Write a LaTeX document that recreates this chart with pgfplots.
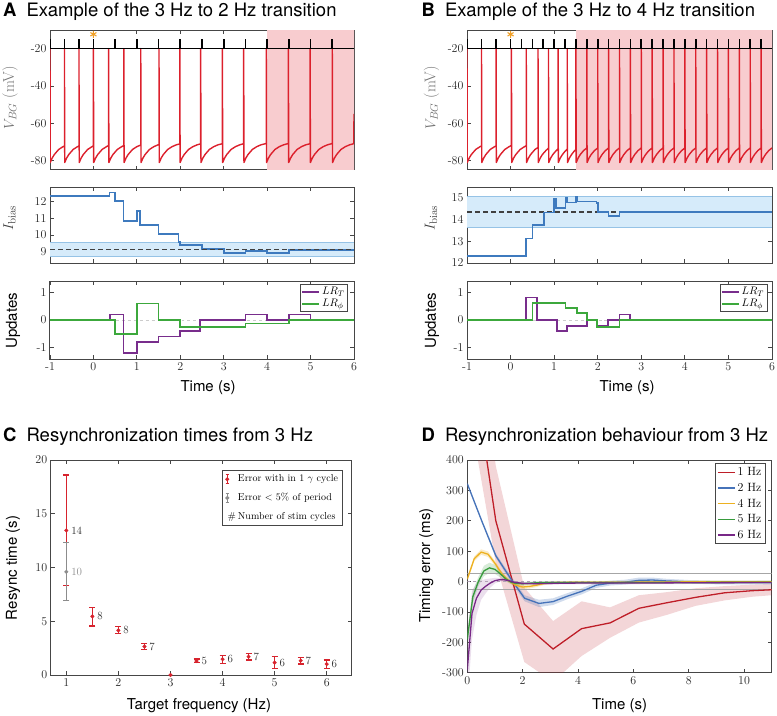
\documentclass[border=0pt]{standalone}
\usepackage{fontspec}
\usepackage{pgfplots}
\pgfplotsset{compat=1.18}
\usepackage{pgfplotstable}
\newfontfamily\hv{TeX Gyre Heros}
\definecolor{axc}{RGB}{70,70,70}
\definecolor{spk}{RGB}{220,32,44}
\definecolor{shd}{RGB}{248,204,207}
\definecolor{ibl}{RGB}{62,122,190}
\definecolor{bandf}{RGB}{214,235,250}
\definecolor{bande}{RGB}{150,195,230}
\definecolor{lrt}{RGB}{120,45,140}
\definecolor{lrp}{RGB}{60,168,60}
\definecolor{star}{RGB}{240,160,40}
\definecolor{cred}{RGB}{215,35,45}
\definecolor{cgray}{RGB}{140,140,140}
\definecolor{d1}{RGB}{190,30,40}
\definecolor{d2}{RGB}{70,115,185}
\definecolor{d4}{RGB}{237,177,32}
\definecolor{d5}{RGB}{55,155,60}
\definecolor{d6}{RGB}{120,40,135}
\newcommand{\tf}{\fontsize{12bp}{13bp}\selectfont}
\newcommand{\lf}{\hv\fontsize{15bp}{17bp}\selectfont}
\newcommand{\ttl}{\hv\fontsize{18.5bp}{21bp}\selectfont}
\pgfplotsset{
  base/.style={scale only axis, anchor=north west,
    axis line style={draw=axc, line width=1bp},
    tick style={draw=axc, line width=0.8bp}, major tick length=4bp, tick align=inside,
    tick label style={font=\tf, text=black!85},
    /pgf/number format/assume math mode=true},
}
\pgfplotstableread{
x y ep em lab
1 13.45 5.15 5.15 14
1.5 5.45 0.85 0.9 8
2 4.15 0.35 0.3 8
2.5 2.65 0.3 0.3 7
3.5 1.3 0.18 0.15 5
4 1.47 0.33 0.37 6
4.5 1.7 0.3 0.3 7
5 1.15 0.55 0.55 6
5.5 1.33 0.3 0.3 7
6 1.02 0.38 0.4 6
}\resC
\begin{document}
\begin{tikzpicture}
\useasboundingbox (0,0) rectangle (777bp,-716bp);
% ---------- A1
\begin{axis}[base, at={(50bp,-30bp)}, width=304bp, height=140bp,
  xmin=-1, xmax=6, ymin=-85, ymax=-10, xtick={-1,0,...,6}, xticklabels={}, ytick={-80,-60,-40,-20}]
\addplot[fill=shd, draw=none, forget plot] coordinates {(4,-90) (6.5,-90) (6.5,0) (4,0)};
\addplot[spk, line width=1.4bp, line join=round] coordinates {
(-1,-20) (-0.994,-81) (-0.95,-78.6) (-0.9,-76.7) (-0.8,-74) (-0.7,-72.5) (-0.667,-72.1)
(-0.667,-20) (-0.661,-81) (-0.617,-78.6) (-0.567,-76.7) (-0.467,-74) (-0.367,-72.5) (-0.333,-72.1)
(-0.333,-20) (-0.327,-81) (-0.283,-78.6) (-0.233,-76.7) (-0.133,-74) (-0.033,-72.5) (0,-72.1)
(0,-20) (0.006,-81) (0.05,-78.6) (0.1,-76.7) (0.2,-74) (0.3,-72.5) (0.35,-71.9)
(0.35,-20) (0.356,-81) (0.4,-78.6) (0.45,-76.7) (0.55,-74) (0.65,-72.5) (0.7,-71.9)
(0.7,-20) (0.706,-81) (0.75,-78.6) (0.8,-76.7) (0.9,-74) (1.0,-72.5) (1.09,-71.6)
(1.09,-20) (1.096,-81) (1.14,-78.6) (1.19,-76.7) (1.29,-74) (1.39,-72.5) (1.49,-71.5) (1.51,-71.4)
(1.51,-20) (1.516,-81) (1.56,-78.6) (1.61,-76.7) (1.71,-74) (1.81,-72.5) (1.91,-71.5) (1.99,-71)
(1.99,-20) (1.996,-81) (2.04,-78.6) (2.09,-76.7) (2.19,-74) (2.29,-72.5) (2.39,-71.5) (2.47,-71)
(2.47,-20) (2.476,-81) (2.52,-78.6) (2.57,-76.7) (2.67,-74) (2.77,-72.5) (2.87,-71.5) (2.97,-70.9)
(2.97,-20) (2.976,-81) (3.02,-78.6) (3.07,-76.7) (3.17,-74) (3.27,-72.5) (3.37,-71.5) (3.46,-70.9)
(3.46,-20) (3.466,-81) (3.51,-78.6) (3.56,-76.7) (3.66,-74) (3.76,-72.5) (3.86,-71.5) (3.98,-70.8)
(3.98,-20) (3.986,-81) (4.03,-78.6) (4.08,-76.7) (4.18,-74) (4.28,-72.5) (4.38,-71.5) (4.49,-70.8)
(4.49,-20) (4.496,-81) (4.54,-78.6) (4.59,-76.7) (4.69,-74) (4.79,-72.5) (4.89,-71.5) (4.99,-70.9)
(4.99,-20) (4.996,-81) (5.04,-78.6) (5.09,-76.7) (5.19,-74) (5.29,-72.5) (5.39,-71.5) (5.5,-70.8)
(5.5,-20) (5.506,-81) (5.55,-78.6) (5.6,-76.7) (5.7,-74) (5.8,-72.5) (5.9,-71.5) (5.995,-70.9) (6,-55)};
\addplot[black, line width=1.2bp] coordinates {(-1,-20) (6,-20)};
\addplot[draw=none, mark=none, error bars/.cd, y dir=plus, y fixed=5, error mark=none,
  error bar style={draw=black, line width=1.6bp}] coordinates {
(-1,-20) (-0.667,-20) (-0.333,-20) (0,-20) (0.5,-20) (1,-20) (1.5,-20) (2,-20) (2.5,-20) (3,-20) (3.5,-20) (4,-20) (4.5,-20) (5,-20) (5.5,-20)};
\addplot[star, only marks, mark=asterisk, mark size=3.5bp, mark options={line width=1.1bp}] coordinates {(0,-12.3)};
\end{axis}
% ---------- A2
\begin{axis}[base, at={(50bp,-187bp)}, width=304bp, height=76bp,
  xmin=-1, xmax=6, ymin=8.35, ymax=12.83, xtick={-1,0,...,6}, xticklabels={}, ytick={9,10,11,12}]
\addplot[fill=bandf, draw=none] coordinates {(-1,8.74) (6,8.74) (6,9.59) (-1,9.59)};
\addplot[bande, line width=0.7bp] coordinates {(-1,8.74) (6,8.74)};
\addplot[bande, line width=0.7bp] coordinates {(-1,9.59) (6,9.59)};
\addplot[ibl, line width=1.7bp, const plot] coordinates {(-1,12.32) (0.37,12.5) (0.5,12.0) (0.69,10.84) (1.0,11.4) (1.07,10.6) (1.5,10.07) (1.96,9.6) (2.0,9.42) (2.5,9.18) (3.0,8.94) (3.5,9.05) (4.0,8.94) (4.5,9.12) (6,9.12)};
\addplot[black!75, dash pattern=on 5bp off 3bp, line width=1.1bp] coordinates {(-1,9.16) (6,9.16)};
\end{axis}
% ---------- A3
\begin{axis}[base, at={(50bp,-281bp)}, width=304bp, height=78bp,
  xmin=-1, xmax=6, ymin=-1.4, ymax=1.4, xtick={-1,0,...,6}, ytick={-1,0,1},
  legend style={at={(0.98,0.96)}, anchor=north east, draw=axc, line width=0.8bp,
    font=\fontsize{11bp}{12bp}\selectfont, inner sep=1bp, row sep=-1bp}, legend cell align=left]
\addplot[black!20, dashed, line width=0.8bp, forget plot] coordinates {(-1,0) (6,0)};
\addplot[lrt, line width=1.7bp, const plot] coordinates {(-1,0) (0.38,0.2) (0.69,-1.18) (1.0,-0.79) (1.5,-0.59) (2.0,-0.39) (2.46,0) (3.5,0.2) (4.0,0) (4.5,0.2) (5.0,0) (6,0)};
\addlegendentry{$LR_T$}
\addplot[lrp, line width=1.7bp, const plot] coordinates {(-1,0) (0.5,-0.49) (1.0,0.59) (1.5,0) (2.0,-0.25) (3.5,-0.13) (4.5,0) (6,0)};
\addlegendentry{$LR_\phi$}
\end{axis}
% ---------- B1
\begin{axis}[base, at={(467bp,-30bp)}, width=305bp, height=140bp,
  xmin=-1, xmax=6, ymin=-85, ymax=-10, xtick={-1,0,...,6}, xticklabels={}, ytick={-80,-60,-40,-20}]
\addplot[fill=shd, draw=none, forget plot] coordinates {(1.5,-90) (6.5,-90) (6.5,0) (1.5,0)};
\addplot[spk, line width=1.4bp, line join=round] coordinates {
(-1,-20) (-0.994,-81) (-0.95,-78.6) (-0.9,-76.7) (-0.8,-74) (-0.7,-72.5) (-0.667,-72.1)
(-0.667,-20) (-0.661,-81) (-0.617,-78.6) (-0.567,-76.7) (-0.467,-74) (-0.367,-72.5) (-0.333,-72.1)
(-0.333,-20) (-0.327,-81) (-0.283,-78.6) (-0.233,-76.7) (-0.133,-74) (-0.033,-72.5) (0.02,-71.8)
(0.02,-20) (0.026,-81) (0.07,-78.6) (0.12,-76.7) (0.22,-74) (0.32,-72.5) (0.36,-72.0)
(0.36,-20) (0.366,-81) (0.41,-78.6) (0.46,-76.7) (0.56,-74) (0.63,-72.9)
(0.63,-20) (0.636,-81) (0.68,-78.6) (0.73,-76.7) (0.81,-74.6) (0.87,-73.3)
(0.87,-20) (0.876,-81) (0.92,-78.6) (0.97,-76.7) (1.04,-74.8) (1.09,-73.6)
(1.09,-20) (1.096,-81) (1.14,-78.6) (1.19,-76.7) (1.25,-75) (1.3,-73.8)
(1.3,-20) (1.306,-81) (1.35,-78.6) (1.4,-76.7) (1.45,-75.2) (1.5,-74)
(1.5,-20) (1.506,-81) (1.55,-78.6) (1.6,-76.7) (1.675,-74.6) (1.75,-73.2)
(1.75,-20) (1.756,-81) (1.8,-78.6) (1.85,-76.7) (1.925,-74.6) (2.0,-73.2)
(2.0,-20) (2.006,-81) (2.05,-78.6) (2.1,-76.7) (2.175,-74.6) (2.25,-73.2)
(2.25,-20) (2.256,-81) (2.3,-78.6) (2.35,-76.7) (2.425,-74.6) (2.5,-73.2)
(2.5,-20) (2.506,-81) (2.55,-78.6) (2.6,-76.7) (2.675,-74.6) (2.75,-73.2)
(2.75,-20) (2.756,-81) (2.8,-78.6) (2.85,-76.7) (2.925,-74.6) (3.0,-73.2)
(3.0,-20) (3.006,-81) (3.05,-78.6) (3.1,-76.7) (3.175,-74.6) (3.25,-73.2)
(3.25,-20) (3.256,-81) (3.3,-78.6) (3.35,-76.7) (3.425,-74.6) (3.5,-73.2)
(3.5,-20) (3.506,-81) (3.55,-78.6) (3.6,-76.7) (3.675,-74.6) (3.75,-73.2)
(3.75,-20) (3.756,-81) (3.8,-78.6) (3.85,-76.7) (3.925,-74.6) (4.0,-73.2)
(4.0,-20) (4.006,-81) (4.05,-78.6) (4.1,-76.7) (4.175,-74.6) (4.25,-73.2)
(4.25,-20) (4.256,-81) (4.3,-78.6) (4.35,-76.7) (4.425,-74.6) (4.5,-73.2)
(4.5,-20) (4.506,-81) (4.55,-78.6) (4.6,-76.7) (4.675,-74.6) (4.75,-73.2)
(4.75,-20) (4.756,-81) (4.8,-78.6) (4.85,-76.7) (4.925,-74.6) (5.0,-73.2)
(5.0,-20) (5.006,-81) (5.05,-78.6) (5.1,-76.7) (5.175,-74.6) (5.25,-73.2)
(5.25,-20) (5.256,-81) (5.3,-78.6) (5.35,-76.7) (5.425,-74.6) (5.5,-73.2)
(5.5,-20) (5.506,-81) (5.55,-78.6) (5.6,-76.7) (5.675,-74.6) (5.75,-73.2)
(5.75,-20) (5.756,-81) (5.8,-78.6) (5.85,-76.7) (5.925,-74.6) (6.0,-73.2)};
\addplot[black, line width=1.2bp] coordinates {(-1,-20) (6,-20)};
\addplot[draw=none, mark=none, error bars/.cd, y dir=plus, y fixed=5, error mark=none,
  error bar style={draw=black, line width=1.6bp}] coordinates {
(-1,-20) (-0.667,-20) (-0.333,-20) (0,-20) (0.25,-20) (0.5,-20) (0.75,-20) (1,-20) (1.25,-20) (1.5,-20) (1.75,-20) (2,-20) (2.25,-20) (2.5,-20) (2.75,-20) (3,-20) (3.25,-20) (3.5,-20) (3.75,-20) (4,-20) (4.25,-20) (4.5,-20) (4.75,-20) (5,-20) (5.25,-20) (5.5,-20) (5.75,-20)};
\addplot[star, only marks, mark=asterisk, mark size=3.5bp, mark options={line width=1.1bp}] coordinates {(0,-12.3)};
\end{axis}
% ---------- B2
\begin{axis}[base, at={(467bp,-187bp)}, width=305bp, height=76bp,
  xmin=-1, xmax=6, ymin=12, ymax=15.5, xtick={-1,0,...,6}, xticklabels={}, ytick={12,13,14,15}]
\addplot[fill=bandf, draw=none] coordinates {(-1,13.66) (6,13.66) (6,15.08) (-1,15.08)};
\addplot[bande, line width=0.7bp] coordinates {(-1,13.66) (6,13.66)};
\addplot[bande, line width=0.7bp] coordinates {(-1,15.08) (6,15.08)};
\addplot[black!75, dash pattern=on 5bp off 3bp, line width=1.1bp] coordinates {(-1,14.35) (6,14.35)};
\addplot[ibl, line width=1.7bp, const plot] coordinates {(-1,12.33) (0.35,13.13) (0.5,13.75) (0.76,14.33) (1.0,14.95) (1.05,14.54) (1.26,14.98) (1.3,14.78) (1.5,15.05) (1.53,14.83) (1.97,14.75) (2.0,14.34) (2.25,14.15) (2.5,14.34) (6,14.34)};
\end{axis}
% ---------- B3
\begin{axis}[base, at={(467bp,-281bp)}, width=305bp, height=78bp,
  xmin=-1, xmax=6, ymin=-1.4, ymax=1.4, xtick={-1,0,...,6}, ytick={-1,0,1},
  legend style={at={(0.985,0.96)}, anchor=north east, draw=axc, line width=0.8bp,
    font=\fontsize{11bp}{12bp}\selectfont, inner sep=1bp, row sep=-1bp}, legend cell align=left]
\addplot[black!20, dashed, line width=0.8bp, forget plot] coordinates {(-1,0) (6,0)};
\addplot[lrt, line width=1.7bp, const plot] coordinates {(-1,0) (0.35,0.81) (0.61,0) (1.06,-0.39) (1.29,-0.21) (1.76,0) (1.98,-0.21) (2.24,0) (2.5,0.2) (2.74,0) (6,0)};
\addlegendentry{$LR_T$}
\addplot[lrp, line width=1.7bp, const plot] coordinates {(-1,0) (0.5,0.62) (1.26,0.44) (1.52,0.24) (1.76,0) (1.98,-0.24) (2.5,0) (6,0)};
\addlegendentry{$LR_\phi$}
\end{axis}
% ---------- C
\begin{axis}[base, at={(50.7bp,-460bp)}, width=301bp, height=215bp,
  xmin=0.7, xmax=6.48, ymin=0, ymax=20, xtick={1,...,6}, ytick={0,5,10,15,20},
  legend style={at={(0.971,0.953)}, anchor=north east, draw=axc, line width=0.8bp,
    font=\fontsize{10bp}{11bp}\selectfont, inner sep=2.5bp, row sep=6bp}, legend cell align=left]
\addplot[cred, only marks, mark=*, mark size=1.8bp, forget plot,
  nodes near coords, point meta=explicit symbolic,
  every node near coord/.append style={anchor=west, xshift=1.5bp, text=black!85, font=\fontsize{11bp}{12bp}\selectfont},
  error bars/.cd, y dir=both, y explicit,
  error bar style={line width=1.2bp, cred},
  error mark options={cred, line width=1.2bp, mark size=3bp, rotate=90}]
  table[x=x, y=y, y error plus=ep, y error minus=em, meta=lab] {\resC};
\addplot[cred, only marks, mark=*, mark size=1.8bp, forget plot] coordinates {(3,0)};
\addplot[cgray, only marks, mark=*, mark size=1.8bp, forget plot,
  nodes near coords, point meta=explicit symbolic,
  every node near coord/.append style={anchor=west, xshift=1.5bp, text=cgray, font=\fontsize{11bp}{12bp}\selectfont},
  error bars/.cd, y dir=both, y explicit,
  error bar style={line width=1.2bp, cgray},
  error mark options={cgray, line width=1.2bp, mark size=3bp, rotate=90}]
  table[x=x, y=y, y error=e, meta=lab, row sep=\\] {x y e lab\\ 1 9.6 2.7 10\\};
\addlegendimage{legend image code/.code={
  \draw[cred,line width=1.1bp] (0.12cm,-0.16cm) -- (0.12cm,0.16cm);
  \draw[cred,line width=1.1bp] (0.06cm,-0.16cm) -- (0.18cm,-0.16cm) (0.06cm,0.16cm) -- (0.18cm,0.16cm);
  \fill[cred] (0.12cm,0) circle (1.6bp);}}
\addlegendentry{Error with in 1 $\gamma$ cycle}
\addlegendimage{legend image code/.code={
  \draw[cgray,line width=1.1bp] (0.12cm,-0.16cm) -- (0.12cm,0.16cm);
  \draw[cgray,line width=1.1bp] (0.06cm,-0.16cm) -- (0.18cm,-0.16cm) (0.06cm,0.16cm) -- (0.18cm,0.16cm);
  \fill[cgray] (0.12cm,0) circle (1.6bp);}}
\addlegendentry{Error < 5\% of period}
\addlegendimage{legend image code/.code={
  \node[inner sep=0pt, font=\fontsize{10bp}{11bp}\selectfont] at (0.12cm,0) {\#};}}
\addlegendentry{Number of stim cycles}
\end{axis}
% ---------- D
\begin{axis}[base, at={(467.3bp,-460bp)}, width=304.4bp, height=212.7bp,
  xmin=0, xmax=11, ymin=-300, ymax=400, xtick={0,2,...,10}, ytick={-300,-200,...,400},
  legend style={at={(0.981,0.986)}, anchor=north east, draw=axc, line width=1.1bp,
    font=\fontsize{12bp}{13bp}\selectfont, inner sep=2bp, row sep=2bp}, legend cell align=left]
\addplot[fill=d1, fill opacity=0.18, draw=none, forget plot] coordinates {
(0,1100) (1.03,380) (2.06,-20) (3.1,-130) (4.13,-65) (5.16,-85) (6.2,-45) (7.2,-35) (8.25,-22) (9.3,-15) (10.3,-10) (11,-8)
(11,-45) (10.3,-50) (9.3,-62) (8.25,-80) (7.2,-110) (6.2,-135) (5.16,-185) (4.13,-245) (3.1,-330) (2.06,-265) (1.03,60) (0,600)};
\addplot[fill=d2, fill opacity=0.25, draw=none, forget plot] coordinates {
(0,326) (0.52,205) (1.03,92) (1.55,22) (2.07,-45) (2.59,-60) (3.1,-55) (3.62,-38) (4.14,-22) (4.66,-3) (5.17,3) (5.7,6) (6.2,13) (6.7,13) (7.2,9) (8,5) (9,3) (10,3) (11,3)
(11,-9) (10,-9) (9,-9) (8,-7) (7.2,-5) (6.7,-3) (6.2,-5) (5.7,-10) (5.17,-13) (4.66,-21) (4.14,-42) (3.62,-58) (3.1,-77) (2.59,-84) (2.07,-65) (1.55,2) (1.03,78) (0.52,195) (0,318)};
\addplot[fill=d4, fill opacity=0.25, draw=none, forget plot] coordinates {
(0,14) (0.25,83) (0.5,106) (0.75,99) (1.0,68) (1.25,32) (1.5,8) (1.75,-6) (2.0,-11) (2.25,-9) (2.5,-6) (2.75,-2) (3,1) (4,2) (5,2) (6,2) (8,3) (11,3)
(11,-5) (8,-5) (6,-6) (5,-6) (4,-6) (3,-9) (2.75,-12) (2.5,-18) (2.25,-23) (2.0,-25) (1.75,-18) (1.5,-4) (1.25,18) (1.0,52) (0.75,81) (0.5,88) (0.25,67) (0,2)};
\addplot[fill=d5, fill opacity=0.2, draw=none, forget plot] coordinates {
(0,-170) (0.2,-30) (0.4,15) (0.6,52) (0.8,62) (1.0,55) (1.2,37) (1.4,16) (1.6,3) (1.8,-1) (2.0,-2) (2.5,1) (3,1) (4,1) (6,1) (8,1) (11,2)
(11,-6) (8,-7) (6,-7) (4,-7) (3,-7) (2.5,-9) (2.0,-12) (1.8,-11) (1.6,-9) (1.4,0) (1.2,13) (1.0,25) (0.8,28) (0.6,18) (0.4,-15) (0.2,-70) (0,-210)};
\addplot[fill=d6, fill opacity=0.15, draw=none, forget plot] coordinates {
(0,-180) (0.17,-30) (0.33,-5) (0.5,5) (0.67,8) (0.83,10) (1.0,12) (1.17,12) (1.33,11) (1.5,7) (1.67,2) (2.0,-2) (2.5,-3) (3,-2) (4,-1) (6,-1) (8,0) (11,1)
(11,-7) (8,-8) (6,-9) (4,-9) (3,-10) (2.5,-11) (2.0,-10) (1.67,-6) (1.5,-1) (1.33,1) (1.17,0) (1.0,-6) (0.83,-20) (0.67,-38) (0.5,-60) (0.33,-110) (0.17,-190) (0,-400)};
\addplot[black!35, line width=0.9bp, forget plot] coordinates {(0,26) (11,26)};
\addplot[black!35, line width=0.9bp, forget plot] coordinates {(0,-26) (11,-26)};
\addplot[d6!50!black!40, dashed, line width=0.5bp, forget plot] coordinates {(0,0) (11,0)};
\addplot[d1, line width=1.3bp] coordinates {(0,830) (1.03,200) (2.06,-140) (3.1,-222) (4.13,-155) (5.16,-136) (6.2,-88) (7.2,-70) (8.25,-52) (9.3,-37) (10.3,-30) (11,-27)};
\addlegendentry{1 Hz}
\addplot[d2, line width=1.3bp] coordinates {(0,322) (0.52,200) (1.03,85) (1.55,12) (2.07,-55) (2.59,-72) (3.1,-66) (3.62,-48) (4.14,-32) (4.66,-12) (5.17,-5) (5.7,-2) (6.2,4) (6.7,5) (7.2,2) (8,-1) (9,-3) (10,-3) (11,-3)};
\addlegendentry{2 Hz}
\addplot[d4, line width=1.3bp] coordinates {(0,8) (0.25,75) (0.5,97) (0.75,90) (1.0,60) (1.25,25) (1.5,2) (1.75,-12) (2.0,-18) (2.25,-16) (2.5,-12) (2.75,-7) (3,-4) (4,-2) (5,-2) (6,-2) (8,-1) (11,-1)};
\addlegendentry{4 Hz}
\addplot[d5, line width=1.3bp] coordinates {(0,-190) (0.2,-50) (0.4,0) (0.6,35) (0.8,45) (1.0,40) (1.2,25) (1.4,8) (1.6,-3) (1.8,-6) (2.0,-7) (2.5,-4) (3,-3) (4,-3) (6,-3) (8,-3) (11,-2)};
\addlegendentry{5 Hz}
\addplot[d6, line width=1.3bp] coordinates {(0,-290) (0.17,-105) (0.33,-55) (0.5,-28) (0.67,-15) (0.83,-5) (1.0,3) (1.17,6) (1.33,6) (1.5,3) (1.67,-2) (2.0,-6) (2.5,-7) (3,-6) (4,-5) (6,-5) (8,-4) (11,-3)};
\addlegendentry{6 Hz}
\end{axis}
% ---------- titles
\node[anchor=base west, inner sep=0pt, font=\ttl] at (3bp,-16bp) {\textbf{A}\hspace{10bp}Example of the 3 Hz to 2 Hz transition};
\node[anchor=base west, inner sep=0pt, font=\ttl] at (421.5bp,-16bp) {\textbf{B}\hspace{10bp}Example of the 3 Hz to 4 Hz transition};
\node[anchor=base west, inner sep=0pt, font=\ttl] at (3bp,-441.7bp) {\textbf{C}\hspace{10bp}Resynchronization times from 3 Hz};
\node[anchor=base west, inner sep=0pt, font=\ttl] at (421.5bp,-441.7bp) {\textbf{D}\hspace{10bp}Resynchronization behaviour from 3 Hz};
% ---------- axis labels
\node[rotate=90, text=black!55, font=\fontsize{15.5bp}{17bp}\selectfont] at (10bp,-97.5bp) {$V_{BG}$ (mV)};
\node[rotate=90, text=black!55, font=\fontsize{15.5bp}{17bp}\selectfont] at (431.5bp,-97.5bp) {$V_{BG}$ (mV)};
\node[rotate=90, text=black!75, font=\fontsize{15.5bp}{17bp}\selectfont] at (9.5bp,-218bp) {$I_{\mathrm{bias}}$};
\node[rotate=90, text=black!75, font=\fontsize{15.5bp}{17bp}\selectfont] at (431bp,-218bp) {$I_{\mathrm{bias}}$};
\node[rotate=90, font=\lf] at (13bp,-321bp) {Updates};
\node[rotate=90, font=\lf] at (432bp,-321bp) {Updates};
\node[anchor=base, font=\lf] at (208bp,-391.5bp) {Time (s)};
\node[anchor=base, font=\lf] at (627bp,-391.5bp) {Time (s)};
\node[rotate=90, font=\lf] at (13bp,-568bp) {Resync time (s)};
\node[anchor=base, font=\lf] at (199bp,-709bp) {Target frequency (Hz)};
\node[rotate=90, font=\lf] at (426.3bp,-565.5bp) {Timing error (ms)};
\node[anchor=base, font=\lf] at (619.5bp,-709bp) {Time (s)};
\end{tikzpicture}
\end{document}
